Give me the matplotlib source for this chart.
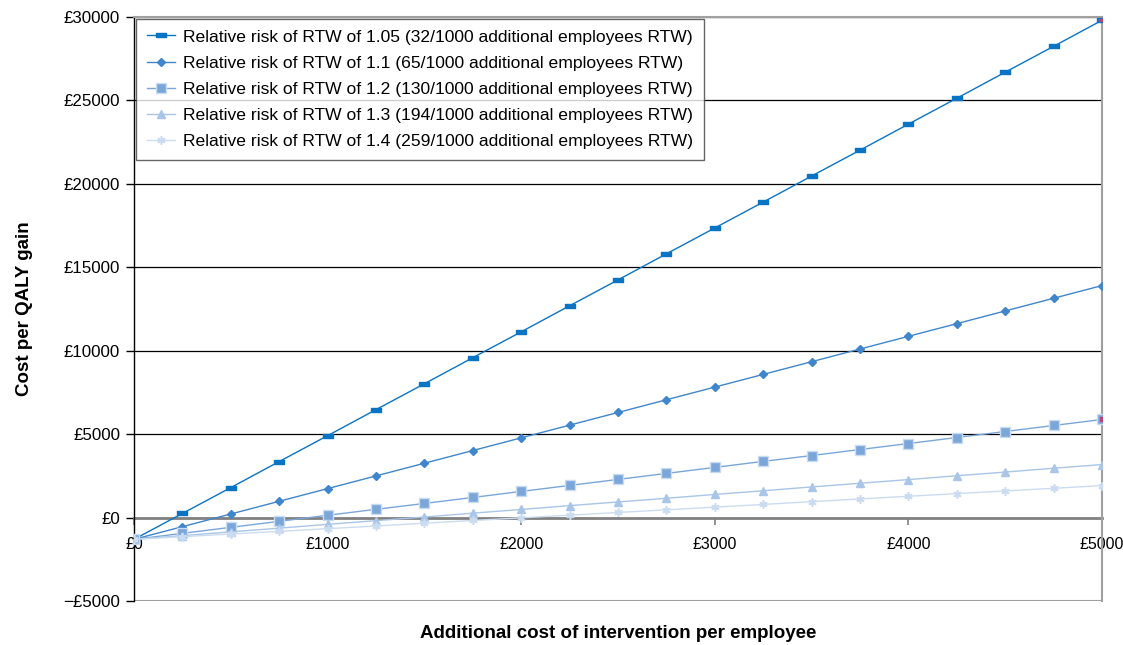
import numpy as np
import matplotlib
matplotlib.use("Agg")
import matplotlib.pyplot as plt
from matplotlib.ticker import FuncFormatter

# additional cost of intervention per employee (GBP)
cost = [0, 250, 500, 750, 1000, 1250, 1500, 1750, 2000, 2250, 2500,
        2750, 3000, 3250, 3500, 3750, 4000, 4250, 4500, 4750, 5000]

# cost per QALY gain
rr_105 = [-1300, 250, 1800, 3360, 4910, 6470, 8020, 9580, 11130, 12690, 14240,
          15800, 17350, 18900, 20460, 22010, 23570, 25120, 26680, 28230, 29790]
rr_11 = [-1300, -540, 220, 980, 1740, 2500, 3260, 4020, 4780, 5540, 6300,
         7060, 7820, 8580, 9340, 10100, 10860, 11620, 12380, 13140, 13900]
rr_12 = [-1300, -940, -580, -220, 140, 500, 850, 1210, 1570, 1930, 2290,
         2650, 3010, 3370, 3720, 4080, 4440, 4800, 5160, 5520, 5880]
rr_13 = [-1300, -1080, -850, -630, -400, -180, 40, 270, 490, 720, 940,
         1160, 1390, 1610, 1840, 2060, 2280, 2510, 2730, 2960, 3180]
rr_14 = [-1300, -1140, -980, -820, -660, -500, -330, -170, -10, 150, 310,
         470, 630, 790, 960, 1120, 1280, 1440, 1600, 1760, 1920]

labels = [
    "Relative risk of RTW of 1.05 (32/1000 additional employees RTW)",
    "Relative risk of RTW of 1.1 (65/1000 additional employees RTW)",
    "Relative risk of RTW of 1.2 (130/1000 additional employees RTW)",
    "Relative risk of RTW of 1.3 (194/1000 additional employees RTW)",
    "Relative risk of RTW of 1.4 (259/1000 additional employees RTW)",
]

rect = [(-1, -0.4), (1, -0.4), (1, 0.4), (-1, 0.4), (-1, -0.4)]
styles = [
    dict(color="#0a74c4", marker=rect, ms=7, mec="#0a74c4"),
    dict(color="#3f86cc", marker="D", ms=4, mec="#3f86cc"),
    dict(color="#7aa6da", marker="s", ms=6.5, mec="#c9dcf0"),
    dict(color="#a9c5e8", marker="^", ms=6, mec="#a9c5e8"),
    dict(color="#ccdcf0", marker=(6, 2, 0), ms=6, mec="#ccdcf0", mew=1.2),
]

plt.rcParams["font.family"] = ["Liberation Sans", "DejaVu Sans"]

fig = plt.figure(figsize=(11.23, 6.45), dpi=100)
ax = fig.add_axes([0.1193, 0.068, 0.8620, 0.906])

series = [rr_105, rr_11, rr_12, rr_13, rr_14]
for vals, lab, st in zip(series, labels, styles):
    ax.plot(cost, vals, lw=1.0, label=lab, zorder=3, **st)

# odd highlighted end points in the original
ax.plot(cost[-1], rr_105[-1], marker=rect, ms=4, color="#c0407a", mec="#c0407a", zorder=4)
ax.plot(cost[-1], rr_12[-1], marker="s", ms=3.5, color="#c0407a", mec="#c0407a", zorder=4)

ax.set_xlim(0, 5000)
ax.set_ylim(-5000, 30000)
ax.set_yticks(np.arange(-5000, 30001, 5000))
ax.set_xticks(np.arange(0, 5001, 1000))


def pounds(v, pos):
    v = int(round(v))
    if v < 0:
        return "\u2212\u00a3%d" % abs(v)
    return "\u00a3%d" % v


ax.yaxis.set_major_formatter(FuncFormatter(pounds))
ax.xaxis.set_major_formatter(FuncFormatter(pounds))

for y in range(5000, 30001, 5000):
    ax.axhline(y, color="black", lw=0.9, zorder=1)
ax.axhline(-5000, color="#a0a0a0", lw=1.5, zorder=1)

ax.spines["bottom"].set_position(("data", 0))
ax.spines["bottom"].set_color("#808080")
ax.spines["bottom"].set_linewidth(2)
ax.spines["bottom"].set_zorder(2)
ax.spines["top"].set_color("#a0a0a0")
ax.spines["top"].set_linewidth(1.5)
ax.spines["right"].set_color("#a0a0a0")
ax.spines["right"].set_linewidth(1.5)
ax.spines["left"].set_color("black")
ax.spines["left"].set_linewidth(1.0)

ax.tick_params(axis="x", direction="out", length=5, color="#808080", width=1.2,
               labelsize=11.5, pad=9)
ax.tick_params(axis="y", direction="out", length=6, color="black", width=1,
               labelsize=12.2, pad=4)

ax.set_xlabel("Additional cost of intervention per employee", fontsize=13.5,
              fontweight="bold", labelpad=0)
ax.xaxis.set_label_coords(0.5, -0.04)
ax.set_ylabel("Cost per QALY gain", fontsize=13.5, fontweight="bold", labelpad=22)

leg = ax.legend(loc="upper left", fontsize=12.6, frameon=True, fancybox=False,
                edgecolor="#404040", borderaxespad=0.12, handlelength=1.65,
                handletextpad=0.45, labelspacing=0.62, borderpad=0.6)
leg.get_frame().set_linewidth(1.0)

fig.savefig("out.png", dpi=100)
